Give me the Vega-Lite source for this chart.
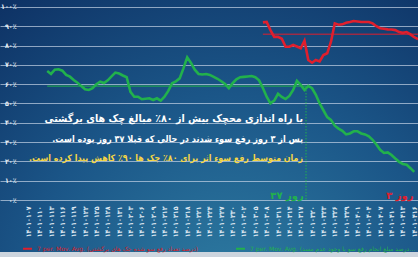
{
  "$schema": "https://vega.github.io/schema/vega-lite/v6.json",
  "autosize": {"type": "none"},
  "padding": 0,
  "width": 418,
  "height": 257,
  "background": "#123a6c",
  "config": {"view": {"stroke": null, "fill": {"gradient": "radial", "x1": 0.56, "y1": 0.92, "r1": 0, "x2": 0.56, "y2": 0.92, "r2": 1.0,
        "stops": [{"offset": 0, "color": "#2f7ea3"}, {"offset": 0.5, "color": "#1b5688"}, {"offset": 1, "color": "#0b2a5d"}]}}},
  "resolve": {"axis": {"x": "independent", "y": "independent"}},
  "data": {"values": [
    {"d":5,"s":"g","v":66.8},{"d":6,"s":"g","v":65.3},{"d":7,"s":"g","v":67.5},{"d":8,"s":"g","v":67.7},{"d":9,"s":"g","v":67.0},
    {"d":10,"s":"g","v":64.8},{"d":11,"s":"g","v":63.9},{"d":12,"s":"g","v":62.2},{"d":13,"s":"g","v":60.8},{"d":14,"s":"g","v":59.0},
    {"d":15,"s":"g","v":57.4},{"d":16,"s":"g","v":57.0},{"d":17,"s":"g","v":57.9},{"d":18,"s":"g","v":60.0},{"d":19,"s":"g","v":61.3},
    {"d":20,"s":"g","v":60.6},{"d":21,"s":"g","v":62.0},{"d":22,"s":"g","v":64.0},{"d":23,"s":"g","v":66.0},{"d":24,"s":"g","v":65.5},
    {"d":25,"s":"g","v":64.5},{"d":26,"s":"g","v":63.6},{"d":27,"s":"g","v":56.0},{"d":28,"s":"g","v":53.5},{"d":29,"s":"g","v":53.5},
    {"d":30,"s":"g","v":52.2},{"d":31,"s":"g","v":52.5},{"d":32,"s":"g","v":52.7},{"d":33,"s":"g","v":51.8},{"d":34,"s":"g","v":52.7},
    {"d":35,"s":"g","v":51.5},{"d":36,"s":"g","v":53.5},{"d":37,"s":"g","v":56.5},{"d":38,"s":"g","v":60.5},{"d":39,"s":"g","v":61.5},
    {"d":40,"s":"g","v":63.0},{"d":41,"s":"g","v":68.2},{"d":42,"s":"g","v":73.9},{"d":43,"s":"g","v":71.0},{"d":44,"s":"g","v":67.5},
    {"d":45,"s":"g","v":65.3},{"d":46,"s":"g","v":65.0},{"d":47,"s":"g","v":65.3},{"d":48,"s":"g","v":64.8},{"d":49,"s":"g","v":63.8},
    {"d":50,"s":"g","v":62.8},{"d":51,"s":"g","v":61.5},{"d":52,"s":"g","v":60.1},{"d":53,"s":"g","v":57.9},{"d":54,"s":"g","v":60.5},
    {"d":55,"s":"g","v":62.5},{"d":56,"s":"g","v":63.6},{"d":57,"s":"g","v":63.8},{"d":58,"s":"g","v":64.0},{"d":59,"s":"g","v":64.2},
    {"d":60,"s":"g","v":63.6},{"d":61,"s":"g","v":62.0},{"d":62,"s":"g","v":58.0},{"d":63,"s":"g","v":53.5},{"d":64,"s":"g","v":50.1},
    {"d":65,"s":"g","v":51.5},{"d":66,"s":"g","v":55.0},{"d":67,"s":"g","v":53.4},{"d":68,"s":"g","v":52.3},{"d":69,"s":"g","v":53.9},
    {"d":70,"s":"g","v":57.0},{"d":71,"s":"g","v":61.7},{"d":72,"s":"g","v":59.6},{"d":73,"s":"g","v":57.0},{"d":74,"s":"g","v":59.1},
    {"d":75,"s":"g","v":57.9},{"d":76,"s":"g","v":54.5},{"d":77,"s":"g","v":50.0},{"d":78,"s":"g","v":46.5},{"d":79,"s":"g","v":43.0},
    {"d":80,"s":"g","v":41.5},{"d":81,"s":"g","v":38.5},{"d":82,"s":"g","v":37.0},{"d":83,"s":"g","v":35.8},{"d":84,"s":"g","v":34.0},
    {"d":85,"s":"g","v":34.5},{"d":86,"s":"g","v":35.6},{"d":87,"s":"g","v":35.6},{"d":88,"s":"g","v":34.5},{"d":89,"s":"g","v":34.0},
    {"d":90,"s":"g","v":33.0},{"d":91,"s":"g","v":31.2},{"d":92,"s":"g","v":28.8},{"d":93,"s":"g","v":26.0},{"d":94,"s":"g","v":24.4},
    {"d":95,"s":"g","v":24.7},{"d":96,"s":"g","v":23.3},{"d":97,"s":"g","v":21.5},{"d":98,"s":"g","v":19.8},{"d":99,"s":"g","v":18.7},
    {"d":100,"s":"g","v":18.3},{"d":101,"s":"g","v":16.5},{"d":102,"s":"g","v":14.6},
    {"d":62,"s":"r","v":92.0},{"d":63,"s":"r","v":92.2},{"d":64,"s":"r","v":88.0},{"d":65,"s":"r","v":84.5},{"d":66,"s":"r","v":84.5},
    {"d":67,"s":"r","v":83.5},{"d":68,"s":"r","v":79.4},{"d":69,"s":"r","v":79.4},{"d":70,"s":"r","v":80.3},{"d":71,"s":"r","v":79.5},
    {"d":72,"s":"r","v":78.6},{"d":73,"s":"r","v":82.5},{"d":74,"s":"r","v":72.5},{"d":75,"s":"r","v":71.1},{"d":76,"s":"r","v":72.5},
    {"d":77,"s":"r","v":71.8},{"d":78,"s":"r","v":75.1},{"d":79,"s":"r","v":76.0},{"d":80,"s":"r","v":82.0},{"d":81,"s":"r","v":91.5},
    {"d":82,"s":"r","v":90.8},{"d":83,"s":"r","v":91.0},{"d":84,"s":"r","v":91.8},{"d":85,"s":"r","v":92.2},{"d":86,"s":"r","v":92.7},
    {"d":87,"s":"r","v":92.5},{"d":88,"s":"r","v":92.2},{"d":89,"s":"r","v":92.2},{"d":90,"s":"r","v":92.2},{"d":91,"s":"r","v":91.5},
    {"d":92,"s":"r","v":90.0},{"d":93,"s":"r","v":89.0},{"d":94,"s":"r","v":88.7},{"d":95,"s":"r","v":88.4},{"d":96,"s":"r","v":88.3},
    {"d":97,"s":"r","v":88.0},{"d":98,"s":"r","v":87.0},{"d":99,"s":"r","v":86.6},{"d":100,"s":"r","v":87.0},{"d":101,"s":"r","v":85.8},
    {"d":102,"s":"r","v":84.3},{"d":103,"s":"r","v":83.3}
  ]},
  "layer": [
    {
      "mark": {"type": "line", "strokeWidth": 2.6, "clip": true},
      "encoding": {
        "x": {"field": "d", "type": "quantitative",
          "scale": {"domain": [-7.48, 103.0], "nice": false, "zero": false},
          "axis": {"orient": "bottom", "offset": -57, "title": null, "domain": false, "ticks": false, "grid": false,
            "values": [0,3,6,9,12,15,18,21,24,27,30,33,36,39,42,45,48,51,54,57,60,63,66,69,72,75,78,81,84,87,90,93,96,99,102],
            "labelExpr": "['۱۴۰۱۰۱۰۷','۱۴۰۱۰۱۱۰','۱۴۰۱۰۱۱۳','۱۴۰۱۰۱۱۶','۱۴۰۱۰۱۱۹','۱۴۰۱۰۱۲۲','۱۴۰۱۰۱۲۵','۱۴۰۱۰۱۲۸','۱۴۰۱۰۱۳۱','۱۴۰۱۰۲۰۳','۱۴۰۱۰۲۰۶','۱۴۰۱۰۲۰۹','۱۴۰۱۰۲۱۲','۱۴۰۱۰۲۱۵','۱۴۰۱۰۲۱۸','۱۴۰۱۰۲۲۱','۱۴۰۱۰۲۲۴','۱۴۰۱۰۲۲۷','۱۴۰۱۰۲۳۰','۱۴۰۱۰۳۰۲','۱۴۰۱۰۳۰۵','۱۴۰۱۰۳۰۸','۱۴۰۱۰۳۱۱','۱۴۰۱۰۳۱۴','۱۴۰۱۰۳۱۷','۱۴۰۱۰۳۲۰','۱۴۰۱۰۳۲۳','۱۴۰۱۰۳۲۶','۱۴۰۱۰۳۲۹','۱۴۰۱۰۴۰۱','۱۴۰۱۰۴۰۴','۱۴۰۱۰۴۰۷','۱۴۰۱۰۴۱۰','۱۴۰۱۰۴۱۳','۱۴۰۱۰۴۱۶'][round(datum.value/3)]",
            "labelAngle": 270, "labelAlign": "right", "labelBaseline": "middle", "labelPadding": 6,
            "labelFont": "DejaVu Sans Condensed, DejaVu Sans", "labelFontSize": 7, "labelFontWeight": "bold", "labelColor": "#dce6f0", "labelOverlap": false, "labelBound": false, "labelFlush": false}},
        "y": {"field": "v", "type": "quantitative",
          "scale": {"domain": [-29.5, 103.6], "nice": false, "zero": false},
          "axis": {"orient": "left", "offset": -24, "title": null, "domain": false, "ticks": false, "grid": true,
            "gridColor": "#c4d3e6", "gridOpacity": 0.7, "gridWidth": 1,
            "values": [0,10,20,30,40,50,60,70,80,90,100],
            "labelExpr": "['۰٪','۱۰٪','۲۰٪','۳۰٪','۴۰٪','۵۰٪','۶۰٪','۷۰٪','۸۰٪','۹۰٪','۱۰۰٪'][round(datum.value/10)]",
            "labelPadding": 8, "labelFont": "DejaVu Sans Condensed, DejaVu Sans", "labelFontSize": 7, "labelFontWeight": "bold", "labelColor": "#e4ecf5", "labelOverlap": false, "labelBound": false, "labelFlush": false}},
        "color": {"field": "s", "type": "nominal",
          "scale": {"domain": ["r", "g"], "range": ["#e01f2d", "#22b14c"]},
          "legend": {"orient": "none", "legendX": 22, "legendY": 243, "direction": "horizontal", "title": null,
            "symbolType": "stroke", "symbolSize": 80, "symbolStrokeWidth": 2, "labelFontSize": 6, "labelLimit": 168,
            "labelFont": "DejaVu Sans", "columnPadding": 34,
            "labelExpr": "datum.value == 'r' ? '7 per. Mov. Avg. (درصد تعداد رفع سو شده چک های برگشتی)' : '7 per. Mov. Avg. (درصد مبلغ انجام رفع سو با وجود عدم مسدودی)'",
            "encode": {"labels": {"update": {"fill": {"signal": "datum.value === 'r' ? '#d81e2a' : '#22b14c'"}}}}}}
      }
    },
    {
      "data": {"values": [{}]},
      "mark": {"type": "rect", "color": "#cdd5de"},
      "encoding": {"x": {"datum": -7.48, "axis": null}, "x2": {"datum": 103}, "y": {"datum": -26.9, "axis": null}, "y2": {"datum": -29.5}}
    },
    {
      "data": {"values": [{}]},
      "mark": {"type": "rule", "color": "#22b14c", "strokeWidth": 1},
      "encoding": {"x": {"datum": 5, "axis": null}, "x2": {"datum": 73.4}, "y": {"datum": 59, "axis": null}}
    },
    {
      "data": {"values": [{}]},
      "mark": {"type": "rule", "color": "#e01f2d", "strokeWidth": 1},
      "encoding": {"x": {"datum": 62, "axis": null}, "x2": {"datum": 103}, "y": {"datum": 85.9, "axis": null}}
    },
    {
      "data": {"values": [{}]},
      "mark": {"type": "rule", "color": "#22b14c", "strokeWidth": 1, "strokeDash": [1.5, 1.5]},
      "encoding": {"x": {"datum": 73.4, "axis": null}, "y": {"datum": 57, "axis": null}, "y2": {"datum": 0}}
    },
    {
      "data": {"values": [{}]},
      "mark": {"type": "text", "text": "با راه اندازی محچک بیش از ۸۰٪ مبالغ چک های برگشتی", "align": "right", "baseline": "middle",
        "font": "DejaVu Sans Condensed, DejaVu Sans", "fontSize": 10.6, "fontWeight": "bold", "color": "#ffffff"},
      "encoding": {"x": {"datum": 72.6, "axis": null}, "y": {"datum": 42, "axis": null}}
    },
    {
      "data": {"values": [{}]},
      "mark": {"type": "text", "text": "پس از ۳ روز رفع سوء شدند در حالی که قبلا ۳۷ روز بوده است.‏", "align": "right", "baseline": "middle",
        "font": "DejaVu Sans Condensed, DejaVu Sans", "fontSize": 9, "fontWeight": "bold", "color": "#ffffff"},
      "encoding": {"x": {"datum": 72.6, "axis": null}, "y": {"datum": 31.6, "axis": null}}
    },
    {
      "data": {"values": [{}]},
      "mark": {"type": "text", "text": "زمان متوسط رفع سوء اثر برای ۸۰٪ چک ها ۹۰٪ کاهش پیدا کرده است.‏", "align": "right", "baseline": "middle",
        "font": "DejaVu Sans Condensed, DejaVu Sans", "fontSize": 8.8, "fontWeight": "bold", "color": "#f6d645"},
      "encoding": {"x": {"datum": 72.6, "axis": null}, "y": {"datum": 21.8, "axis": null}}
    },
    {
      "data": {"values": [{}]},
      "mark": {"type": "text", "text": "۳۷ روز", "align": "right", "baseline": "middle",
        "font": "DejaVu Sans", "fontSize": 10, "fontWeight": "bold", "color": "#22b14c"},
      "encoding": {"x": {"datum": 72.8, "axis": null}, "y": {"datum": 2.1, "axis": null}}
    },
    {
      "data": {"values": [{}]},
      "mark": {"type": "text", "text": "۳ روز", "align": "center", "baseline": "middle",
        "font": "DejaVu Sans", "fontSize": 10, "fontWeight": "bold", "color": "#e01f2d"},
      "encoding": {"x": {"datum": 98.2, "axis": null}, "y": {"datum": 2.1, "axis": null}}
    }
  ]
}
